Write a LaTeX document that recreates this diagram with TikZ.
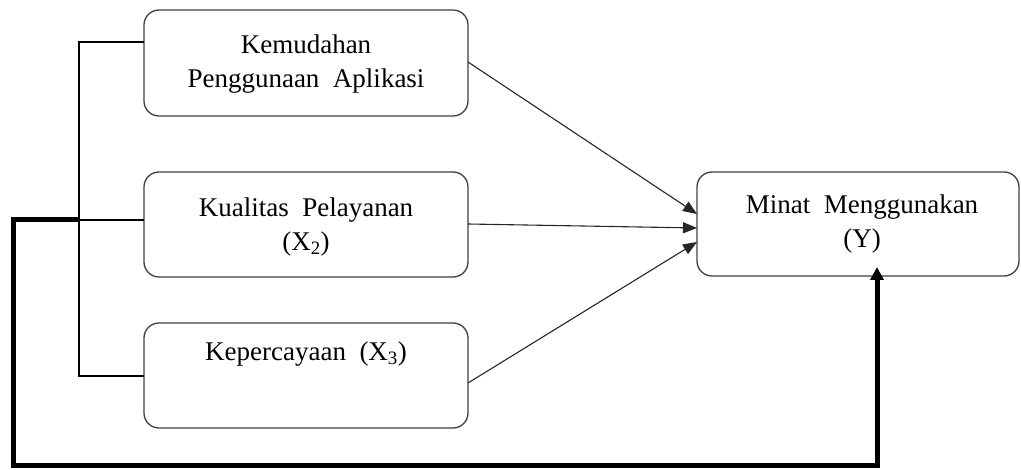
\documentclass[tikz,border=0pt]{standalone}
\usepackage{fontspec}
\setmainfont{Liberation Serif}
\usetikzlibrary{arrows.meta}
\begin{document}
\begin{tikzpicture}[x=1pt,y=-1pt,
  box/.style={draw=black!75,line width=1.3pt,rounded corners=15pt,fill=white},
  lbl/.style={font=\fontsize{27}{34}\selectfont,align=center,inner sep=0pt},
  thin/.style={line width=1.2pt},
  thick/.style={line width=5pt},
  arr/.style={line width=1.1pt,black!85,-{Triangle[length=14pt,width=11pt]}}]
\useasboundingbox (0,0) rectangle (1021,470);
% boxes
\draw[box] (144,10) rectangle (468,116);
\draw[box] (144,172) rectangle (468,277);
\draw[box] (144,323) rectangle (468,428);
\draw[box] (697,172) rectangle (1019,276);
\node[lbl] (t1) at (306,64) {Kemudahan\\Penggunaan\ \ Aplikasi};
\node[lbl] (t2) at (306,227) {Kualitas\ \ Pelayanan\\(X\textsubscript{2})};
\node[lbl] (t3) at (306,354) {Kepercayaan\ \ (X\textsubscript{3})};
\node[lbl] (ty) at (862,224) {Minat\ \ Menggunakan\\(Y)};
% coordinates
\coordinate (b1l) at (144,42);
\coordinate (b2l) at (144,220);
\coordinate (b3l) at (144,376);
\coordinate (bra) at (79,42);
\coordinate (brb) at (79,376);
\coordinate (brm) at (79,220);
\coordinate (b1r) at (468,62);
\coordinate (b2r) at (468,224);
\coordinate (b3r) at (468,383);
\coordinate (y1) at (697,214);
\coordinate (y2) at (697,228);
\coordinate (y3) at (697,242);
\coordinate (yb) at (877,277);
% bracket
\draw[thin] (b1l) -- (bra) -- (brb) -- (b3l);
\draw[thin] (brm) -- (b2l);
% arrows
\draw[arr] (b1r) -- (y1);
\draw[arr] (b2r) -- (y2);
\draw[arr] (b3r) -- (y3);
% thick feedback line
\draw[thick,-{Triangle[length=13pt,width=13pt]}] (brm) -- (13,220) -- (13,466) -- (877,466) -- ([yshift=10pt]yb);
\end{tikzpicture}
\end{document}
